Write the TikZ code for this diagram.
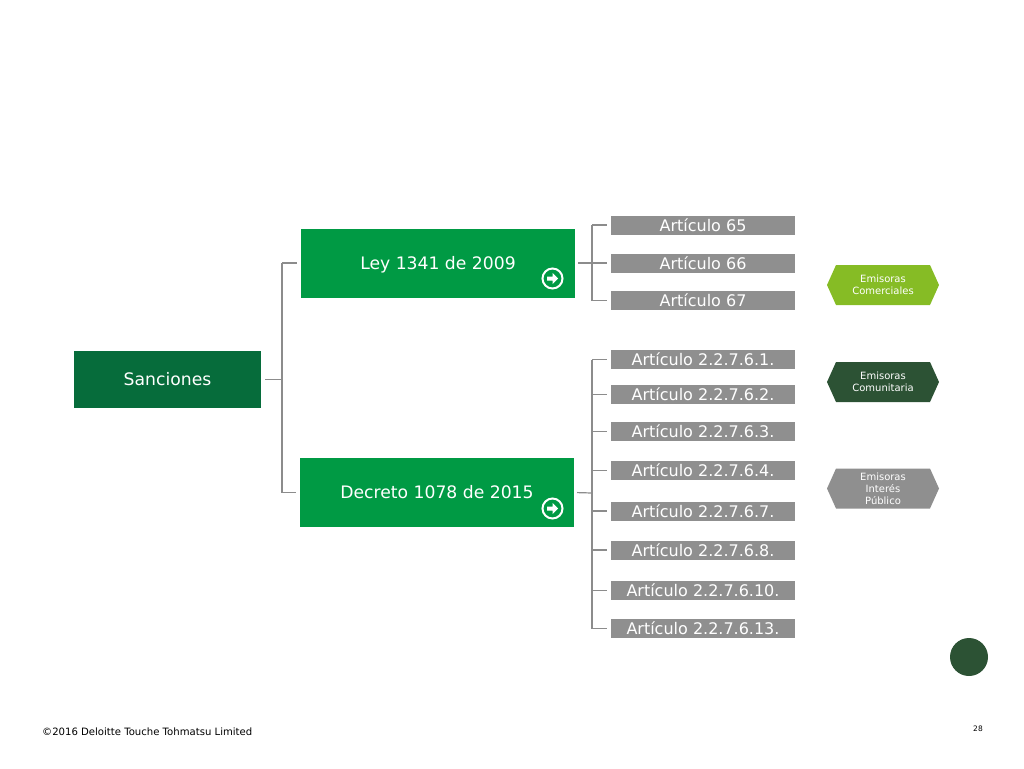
\documentclass[tikz,border=0pt]{standalone}
\usepackage{fontspec}
\setmainfont{DejaVu Sans}
\usetikzlibrary{calc}

\definecolor{darkgreen}{HTML}{066C3B}
\definecolor{midgreen}{HTML}{009A44}
\definecolor{limegreen}{HTML}{86BC25}
\definecolor{forest}{HTML}{2C5234}
\definecolor{boxgray}{HTML}{8F8F8F}
\definecolor{linegray}{HTML}{8C8C8C}

\tikzset{
  mainbox/.style={fill=midgreen,text=white,inner sep=0pt,outer sep=0pt,minimum width=274pt,minimum height=69pt,text height=14.5pt,text depth=2.5pt,font=\fontsize{17.2}{20}\selectfont},
  artbox/.style={fill=boxgray,text=white,inner sep=0pt,outer sep=0pt,minimum width=184pt,minimum height=19pt,text height=13.5pt,text depth=1.5pt,font=\fontsize{16}{18}\selectfont},
  hexbox/.style={text=white,align=center,font=\fontsize{10}{12}\selectfont},
  conn/.style={draw=linegray,line width=1.2pt},
  gap/.style={shorten >=4pt},
}

% Sloped hexagon with its text
\newcommand{\hexlabel}[5]{
  \fill[#2] (#3-56,#4) -- (#3-47,#4-20) -- (#3+47,#4-20) -- (#3+56,#4) -- (#3+47,#4+20) -- (#3-47,#4+20) -- cycle;
  \node[hexbox] (#1) at (#3,#4) {#5};
}
% Round arrow button
\newcommand{\goicon}[3]{
  \node[circle,draw=white,line width=2pt,minimum size=20pt,inner sep=0pt] (#1) at (#2,#3) {};
  \fill[white] (#2-5.5,#3-2) -- (#2,#3-2) -- (#2,#3-5.5) -- (#2+5.5,#3) -- (#2,#3+5.5) -- (#2,#3+2) -- (#2-5.5,#3+2) -- cycle;
}

\begin{document}
\begin{tikzpicture}[x=1pt,y=-1pt]
  % Boundary
  \path[use as bounding box] (0,0) rectangle (1024,768);
  % Main boxes
  \node[mainbox,fill=darkgreen,minimum width=187pt,minimum height=57pt] (sanciones) at (167.5,379.5) {Sanciones};
  \node[mainbox] (ley) at (438,263) {Ley 1341 de 2009};
  \node[mainbox] (decreto) at (437,492.5) {Decreto 1078 de 2015};
  % Articles
  \foreach \n/\y/\txt in {a/225/65,b/263/66,c/300.5/67,d/359.5/2.2.7.6.1.,e/394.5/2.2.7.6.2.,f/431.5/2.2.7.6.3.,g/470.5/2.2.7.6.4.,h/511/2.2.7.6.7.,i/550/2.2.7.6.8.,j/590.5/2.2.7.6.10.,k/628.5/2.2.7.6.13.}
    \node[artbox] (art\n) at (703,\y) {Artículo \txt};
  % Bus lines
  \coordinate (busL) at (282,379.5);
  \coordinate (busA) at (592,263);
  \coordinate (busB) at (592,493);
  % Level one
  \draw[conn,shorten <=4pt] (sanciones.east) -- (busL);
  \draw[conn,gap] (ley.west -| busL) -- (ley.west);
  \draw[conn,gap] (busL |- decreto.west) -- (decreto.west);
  \draw[conn] (busL |- ley.west) -- (busL |- decreto.west);
  % Level two
  \draw[conn,shorten <=3pt] (ley.east) -- (busA);
  \draw[conn,shorten <=3pt] (decreto.east) -- (busB);
  \draw[conn] (busA |- arta) -- (busA |- artc);
  \draw[conn] (busB |- artd) -- (busB |- artk);
  \foreach \n in {a,b,c,d,e,f,g,h,i,j,k}
    \draw[conn,gap] (busA |- art\n) -- (art\n.west);
  % Buttons
  \goicon{goley}{552.5}{278.5}
  \goicon{godecreto}{552.5}{508.5}
  % Legend
  \hexlabel{comerciales}{limegreen}{883}{285}{Emisoras\\Comerciales}
  \hexlabel{comunitaria}{forest}{883}{382}{Emisoras\\Comunitaria}
  \hexlabel{interes}{boxgray}{883}{488.5}{Emisoras\\Interés\\Público}
  % Footer
  \node[circle,fill=forest,minimum size=38pt,inner sep=0pt] (dot) at (969,657) {};
  \node[anchor=west,inner sep=0pt,font=\fontsize{10.1}{12}\selectfont] (copy) at (42,731.5) {©2016 Deloitte Touche Tohmatsu Limited};
  \node[inner sep=0pt,font=\fontsize{7.5}{9}\selectfont] (page) at (978,729) {28};
\end{tikzpicture}
\end{document}
